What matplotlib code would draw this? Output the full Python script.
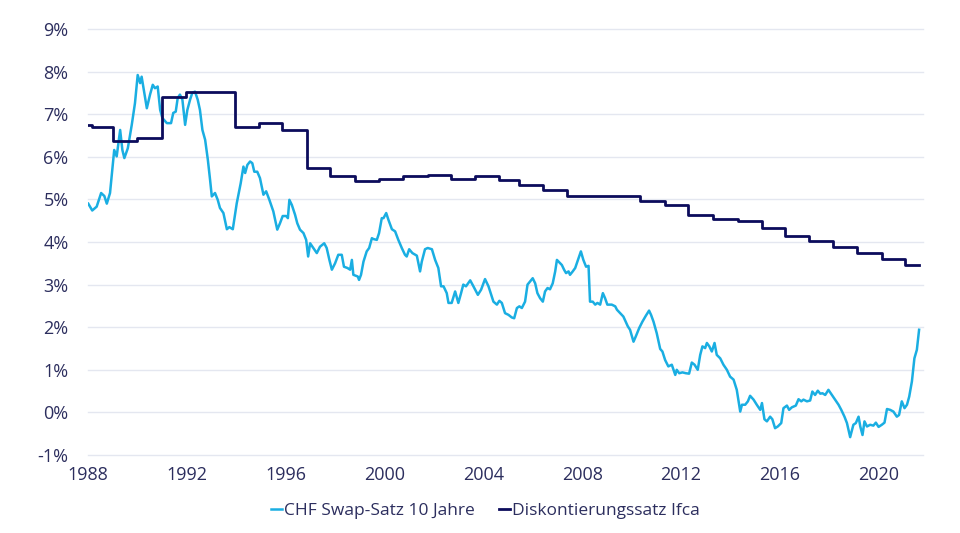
import matplotlib
matplotlib.use("Agg")
import matplotlib.pyplot as plt

plt.rcParams['font.family'] = ['Open Sans', 'DejaVu Sans']

# --- CHF Swap-Satz 10 Jahre (decimal year, %) ---
swap_years = [
    1988.01, 1988.17, 1988.35, 1988.53, 1988.66, 1988.76, 1988.89, 1988.98, 1989.06, 1989.16,
    1989.30, 1989.39, 1989.47, 1989.61, 1989.77, 1989.90, 1990.01, 1990.11, 1990.17, 1990.28,
    1990.38, 1990.51, 1990.62, 1990.71, 1990.82, 1990.92, 1991.01, 1991.19, 1991.36, 1991.45,
    1991.55, 1991.63, 1991.72, 1991.82, 1991.93, 1992.02, 1992.13, 1992.22, 1992.33, 1992.44,
    1992.53, 1992.63, 1992.74, 1992.85, 1992.94, 1993.01, 1993.14, 1993.25, 1993.34, 1993.48,
    1993.62, 1993.72, 1993.86, 1994.02, 1994.18, 1994.29, 1994.36, 1994.45, 1994.56, 1994.65,
    1994.73, 1994.85, 1994.96, 1995.10, 1995.21, 1995.34, 1995.50, 1995.66, 1995.77, 1995.88,
    1996.02, 1996.09, 1996.15, 1996.25, 1996.38, 1996.47, 1996.58, 1996.72, 1996.83, 1996.91,
    1996.99, 1997.12, 1997.26, 1997.39, 1997.56, 1997.66, 1997.77, 1997.87, 1998.00, 1998.13,
    1998.27, 1998.36, 1998.50, 1998.61, 1998.68, 1998.74, 1998.92, 1998.97, 1999.05, 1999.15,
    1999.28, 1999.38, 1999.49, 1999.55, 1999.69, 1999.78, 1999.89, 1999.96, 2000.07, 2000.16,
    2000.30, 2000.43, 2000.56, 2000.70, 2000.83, 2000.90, 2001.00, 2001.13, 2001.31, 2001.44,
    2001.51, 2001.64, 2001.75, 2001.92, 2002.05, 2002.18, 2002.29, 2002.39, 2002.52, 2002.59,
    2002.72, 2002.86, 2002.99, 2003.10, 2003.19, 2003.30, 2003.47, 2003.60, 2003.78, 2003.91,
    2004.07, 2004.21, 2004.41, 2004.55, 2004.65, 2004.75, 2004.88, 2005.02, 2005.15, 2005.25,
    2005.36, 2005.46, 2005.56, 2005.69, 2005.79, 2005.89, 2006.00, 2006.10, 2006.19, 2006.30,
    2006.41, 2006.50, 2006.60, 2006.70, 2006.81, 2006.91, 2006.98, 2007.08, 2007.18, 2007.27,
    2007.35, 2007.45, 2007.51, 2007.62, 2007.72, 2007.81, 2007.95, 2008.05, 2008.16, 2008.26,
    2008.32, 2008.43, 2008.53, 2008.62, 2008.73, 2008.84, 2008.93, 2009.02, 2009.20, 2009.34,
    2009.41, 2009.54, 2009.67, 2009.85, 2009.94, 2010.08, 2010.17, 2010.31, 2010.44, 2010.58,
    2010.71, 2010.79, 2010.89, 2011.02, 2011.16, 2011.25, 2011.36, 2011.49, 2011.63, 2011.77,
    2011.83, 2011.93, 2012.06, 2012.20, 2012.33, 2012.44, 2012.55, 2012.68, 2012.78, 2012.87,
    2012.98, 2013.05, 2013.15, 2013.25, 2013.36, 2013.45, 2013.59, 2013.72, 2013.86, 2013.99,
    2014.13, 2014.26, 2014.40, 2014.47, 2014.60, 2014.71, 2014.80, 2014.94, 2015.07, 2015.21,
    2015.28, 2015.38, 2015.48, 2015.61, 2015.70, 2015.81, 2015.92, 2016.06, 2016.15, 2016.29,
    2016.38, 2016.49, 2016.65, 2016.76, 2016.87, 2016.96, 2017.10, 2017.23, 2017.32, 2017.43,
    2017.54, 2017.64, 2017.73, 2017.84, 2017.97, 2018.11, 2018.24, 2018.38, 2018.49, 2018.62,
    2018.72, 2018.85, 2018.98, 2019.08, 2019.19, 2019.26, 2019.35, 2019.43, 2019.53, 2019.66,
    2019.79, 2019.89, 2020.00, 2020.13, 2020.24, 2020.34, 2020.47, 2020.60, 2020.74, 2020.83,
    2020.94, 2021.05, 2021.15, 2021.24, 2021.35, 2021.45, 2021.55, 2021.64,
]
swap_values = [
    4.90, 4.74, 4.83, 5.15, 5.08, 4.90, 5.15, 5.69, 6.16, 6.01,
    6.63, 6.16, 5.97, 6.20, 6.75, 7.26, 7.92, 7.73, 7.88, 7.50,
    7.14, 7.46, 7.69, 7.61, 7.65, 7.10, 6.91, 6.79, 6.79, 7.03,
    7.06, 7.38, 7.46, 7.34, 6.75, 7.10, 7.34, 7.50, 7.53, 7.34,
    7.10, 6.63, 6.40, 5.93, 5.46, 5.07, 5.15, 4.99, 4.80, 4.68,
    4.30, 4.35, 4.30, 4.91, 5.38, 5.77, 5.62, 5.81, 5.89, 5.85,
    5.65, 5.65, 5.50, 5.11, 5.19, 4.99, 4.72, 4.29, 4.44, 4.61,
    4.61, 4.56, 4.99, 4.87, 4.64, 4.44, 4.29, 4.21, 4.05, 3.66,
    3.97, 3.86, 3.74, 3.89, 3.97, 3.86, 3.58, 3.35, 3.50, 3.70,
    3.70, 3.42, 3.39, 3.35, 3.58, 3.23, 3.19, 3.11, 3.23, 3.54,
    3.78, 3.86, 4.09, 4.07, 4.05, 4.21, 4.56, 4.56, 4.68, 4.52,
    4.30, 4.25, 4.05, 3.86, 3.70, 3.66, 3.83, 3.74, 3.68, 3.31,
    3.54, 3.83, 3.86, 3.83, 3.58, 3.39, 2.96, 2.96, 2.80, 2.57,
    2.57, 2.84, 2.57, 2.80, 3.00, 2.96, 3.10, 2.96, 2.76, 2.88,
    3.13, 2.96, 2.60, 2.53, 2.62, 2.57, 2.33, 2.29, 2.23, 2.21,
    2.45, 2.49, 2.45, 2.60, 3.00, 3.07, 3.15, 3.03, 2.80, 2.68,
    2.60, 2.84, 2.92, 2.89, 3.03, 3.31, 3.58, 3.52, 3.46, 3.35,
    3.27, 3.31, 3.23, 3.31, 3.39, 3.54, 3.78, 3.58, 3.42, 3.44,
    2.60, 2.60, 2.53, 2.57, 2.53, 2.80, 2.68, 2.53, 2.53, 2.49,
    2.41, 2.33, 2.25, 2.02, 1.94, 1.66, 1.78, 1.98, 2.13, 2.27,
    2.39, 2.29, 2.13, 1.86, 1.49, 1.43, 1.23, 1.08, 1.12, 0.88,
    1.00, 0.92, 0.94, 0.92, 0.91, 1.17, 1.12, 1.00, 1.35, 1.55,
    1.51, 1.63, 1.55, 1.43, 1.63, 1.35, 1.27, 1.12, 1.00, 0.84,
    0.77, 0.53, 0.02, 0.18, 0.18, 0.26, 0.39, 0.30, 0.18, 0.06,
    0.22, -0.16, -0.21, -0.10, -0.16, -0.37, -0.33, -0.25, 0.10, 0.16,
    0.06, 0.12, 0.16, 0.31, 0.26, 0.30, 0.26, 0.28, 0.49, 0.41,
    0.51, 0.44, 0.45, 0.41, 0.53, 0.41, 0.30, 0.18, 0.06, -0.10,
    -0.25, -0.58, -0.29, -0.25, -0.10, -0.33, -0.53, -0.21, -0.33, -0.29,
    -0.31, -0.24, -0.34, -0.29, -0.24, 0.08, 0.06, 0.02, -0.10, -0.06,
    0.26, 0.10, 0.18, 0.37, 0.73, 1.27, 1.47, 1.94,
]

# --- Diskontierungssatz Ifca (step changes: decimal year, %) ---
disc_years = [
    1988.00, 1988.15, 1989.00, 1990.00, 1990.98, 1991.97, 1992.96, 1993.93, 1994.92, 1995.87,
    1996.85, 1997.80, 1998.80, 1999.78, 2000.74, 2001.77, 2002.68, 2003.67, 2004.64, 2005.45,
    2006.42, 2007.39, 2010.35, 2011.36, 2012.29, 2013.30, 2014.30, 2015.29, 2016.20, 2017.19,
    2018.16, 2019.13, 2020.15, 2021.08, 2021.64,
]
disc_values = [
    6.75, 6.69, 6.36, 6.43, 7.40, 7.51, 7.53, 6.70, 6.79, 6.62,
    5.74, 5.54, 5.44, 5.47, 5.55, 5.58, 5.48, 5.55, 5.46, 5.34,
    5.22, 5.07, 4.97, 4.87, 4.64, 4.54, 4.50, 4.33, 4.15, 4.03,
    3.88, 3.74, 3.61, 3.47, 3.47,
]

x_ticks = [1988, 1992, 1996, 2000, 2004, 2008, 2012, 2016, 2020]
y_ticks = [-1, 0, 1, 2, 3, 4, 5, 6, 7, 8, 9]

swap_color = '#1aaee2'
disc_color = '#0c0c5c'
text_color = '#2c2e5e'

fig = plt.figure(figsize=(9.6, 5.33), dpi=100)
ax = fig.add_axes([0.0917, 0.1463, 0.8698, 0.7993])

ax.plot(swap_years, swap_values, color=swap_color, lw=1.8, label='CHF Swap-Satz 10 Jahre', zorder=3)
ax.plot(disc_years, disc_values, color=disc_color, lw=2.0, drawstyle='steps-post',
        label='Diskontierungssatz Ifca', zorder=4)

ax.set_xlim(1988, 2021.8)
ax.set_ylim(-1, 9)
ax.set_xticks(x_ticks)
ax.set_xticklabels([str(t) for t in x_ticks])
ax.set_yticks(y_ticks)
ax.set_yticklabels([f'{t}%' for t in y_ticks])
ax.grid(axis='y', color='#e4e7f0', lw=1.0)
ax.grid(axis='x', visible=False)
ax.set_axisbelow(True)
for s in ax.spines.values():
    s.set_visible(False)
ax.tick_params(axis='both', length=0, labelsize=13, colors=text_color)
ax.tick_params(axis='y', pad=14)
ax.tick_params(axis='x', pad=8)
for gl in ax.get_ygridlines():
    gl.set_clip_on(False)

fig.legend(loc='center', bbox_to_anchor=(0.506, 0.041), ncol=2, frameon=False,
           fontsize=12.5, handlelength=0.6, handletextpad=0.15, columnspacing=1.4,
           labelcolor=text_color)

fig.savefig('out.png', dpi=100, facecolor='white')
